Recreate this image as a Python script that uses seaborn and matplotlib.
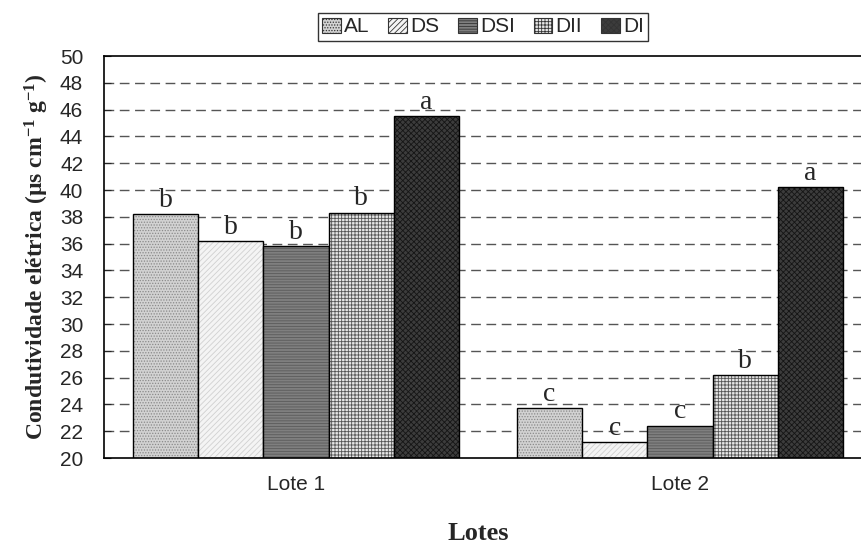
import pandas as pd
import seaborn as sns
import matplotlib
matplotlib.use("Agg")
from matplotlib import pyplot as plt

lotes = ["Lote 1", "Lote 2"]
tratamentos = ["AL", "DS", "DSI", "DII", "DI"]
cond_lote1 = [38.2, 36.2, 35.8, 38.3, 45.5]
cond_lote2 = [23.7, 21.2, 22.4, 26.2, 40.2]
letras_lote1 = ["b", "b", "b", "b", "a"]
letras_lote2 = ["c", "c", "c", "b", "a"]

df = pd.DataFrame({
    "Lote": [lotes[0]] * 5 + [lotes[1]] * 5,
    "Trat": tratamentos * 2,
    "Cond": cond_lote1 + cond_lote2,
    "Letra": letras_lote1 + letras_lote2,
})

sns.set_style("white")
plt.rcParams["font.family"] = ["Liberation Sans", "DejaVu Sans"]
plt.rcParams["hatch.linewidth"] = 0.6
plt.rcParams["mathtext.fontset"] = "custom"
plt.rcParams["mathtext.rm"] = "Liberation Serif:bold"
plt.rcParams["mathtext.it"] = "Liberation Serif:bold"

# grayscale fills + hatches, something like the old excel patterns
faces = {"AL": "#d2d2d2", "DS": "#f4f4f4", "DSI": "#7f7f7f", "DII": "#e6e6e6", "DI": "#3c3c3c"}
hatches = {"AL": "......", "DS": "//////", "DSI": "------", "DII": "+++++", "DI": "xxxxxx"}
hatch_cols = {"AL": "#8a8a8a", "DS": "#d0d0d0", "DSI": "#5a5a5a", "DII": "#555555", "DI": "#151515"}

fig = plt.figure(figsize=(8.62, 5.44), dpi=100)
ax = fig.add_axes([104 / 862, 86 / 544, 768 / 862, 402 / 544])

sns.barplot(data=df, x="Lote", y="Cond", hue="Trat", hue_order=tratamentos,
            palette=faces, width=0.85, gap=0, ax=ax, legend=True,
            edgecolor="black", linewidth=1.0, saturation=1)

for cont, trat in zip(ax.containers, tratamentos):
    for bar in cont:
        bar.set_hatch(hatches[trat])
        bar._hatch_color = matplotlib.colors.to_rgba(hatch_cols[trat])
    sub = df[df["Trat"] == trat]
    ax.bar_label(cont, labels=list(sub["Letra"]), padding=1,
                 fontsize=20, family="Liberation Serif")

ax.set_ylim(20, 50)
ax.set_xlim(-0.5, 1.5)
ax.set_yticks(range(20, 51, 2))
ax.tick_params(axis="y", direction="in", length=5, labelsize=15, pad=15, left=True)
ax.tick_params(axis="x", length=0, labelsize=15, pad=12)
for y in range(22, 50, 2):
    ax.axhline(y, color="#555555", ls=(0, (7, 4)), lw=1, zorder=0)

for s in ["left", "bottom", "top"]:
    ax.spines[s].set_color("black")
    ax.spines[s].set_linewidth(1.2)
ax.spines["right"].set_visible(False)

ax.set_ylabel(r"Condutividade elétrica (µs cm$^{-1}$ g$^{-1}$)", family="Liberation Serif",
              fontweight="bold", fontsize=17, labelpad=6)
ax.set_xlabel("")
fig.text(478 / 862, 1 - 533 / 544, "Lotes", family="Liberation Serif", fontweight="bold",
         fontsize=19, ha="center", va="center")

handles, labels = ax.get_legend_handles_labels()
ax.get_legend().remove()
for h, trat in zip(handles, tratamentos):
    h.set_hatch(hatches[trat])
    h._hatch_color = matplotlib.colors.to_rgba(hatch_cols[trat])
    h.set_edgecolor("#333333")
    h.set_linewidth(0.8)
leg = fig.legend(handles, labels, loc="center", bbox_to_anchor=(483 / 862, 1 - 27 / 544),
                 ncol=5, fontsize=15, frameon=True, fancybox=False, edgecolor="black",
                 handlelength=0.9, handleheight=0.7, handletextpad=0.15, columnspacing=0.9,
                 borderpad=0.2, borderaxespad=0)
leg.get_frame().set_linewidth(1.0)

fig.savefig("out.png", dpi=100)
